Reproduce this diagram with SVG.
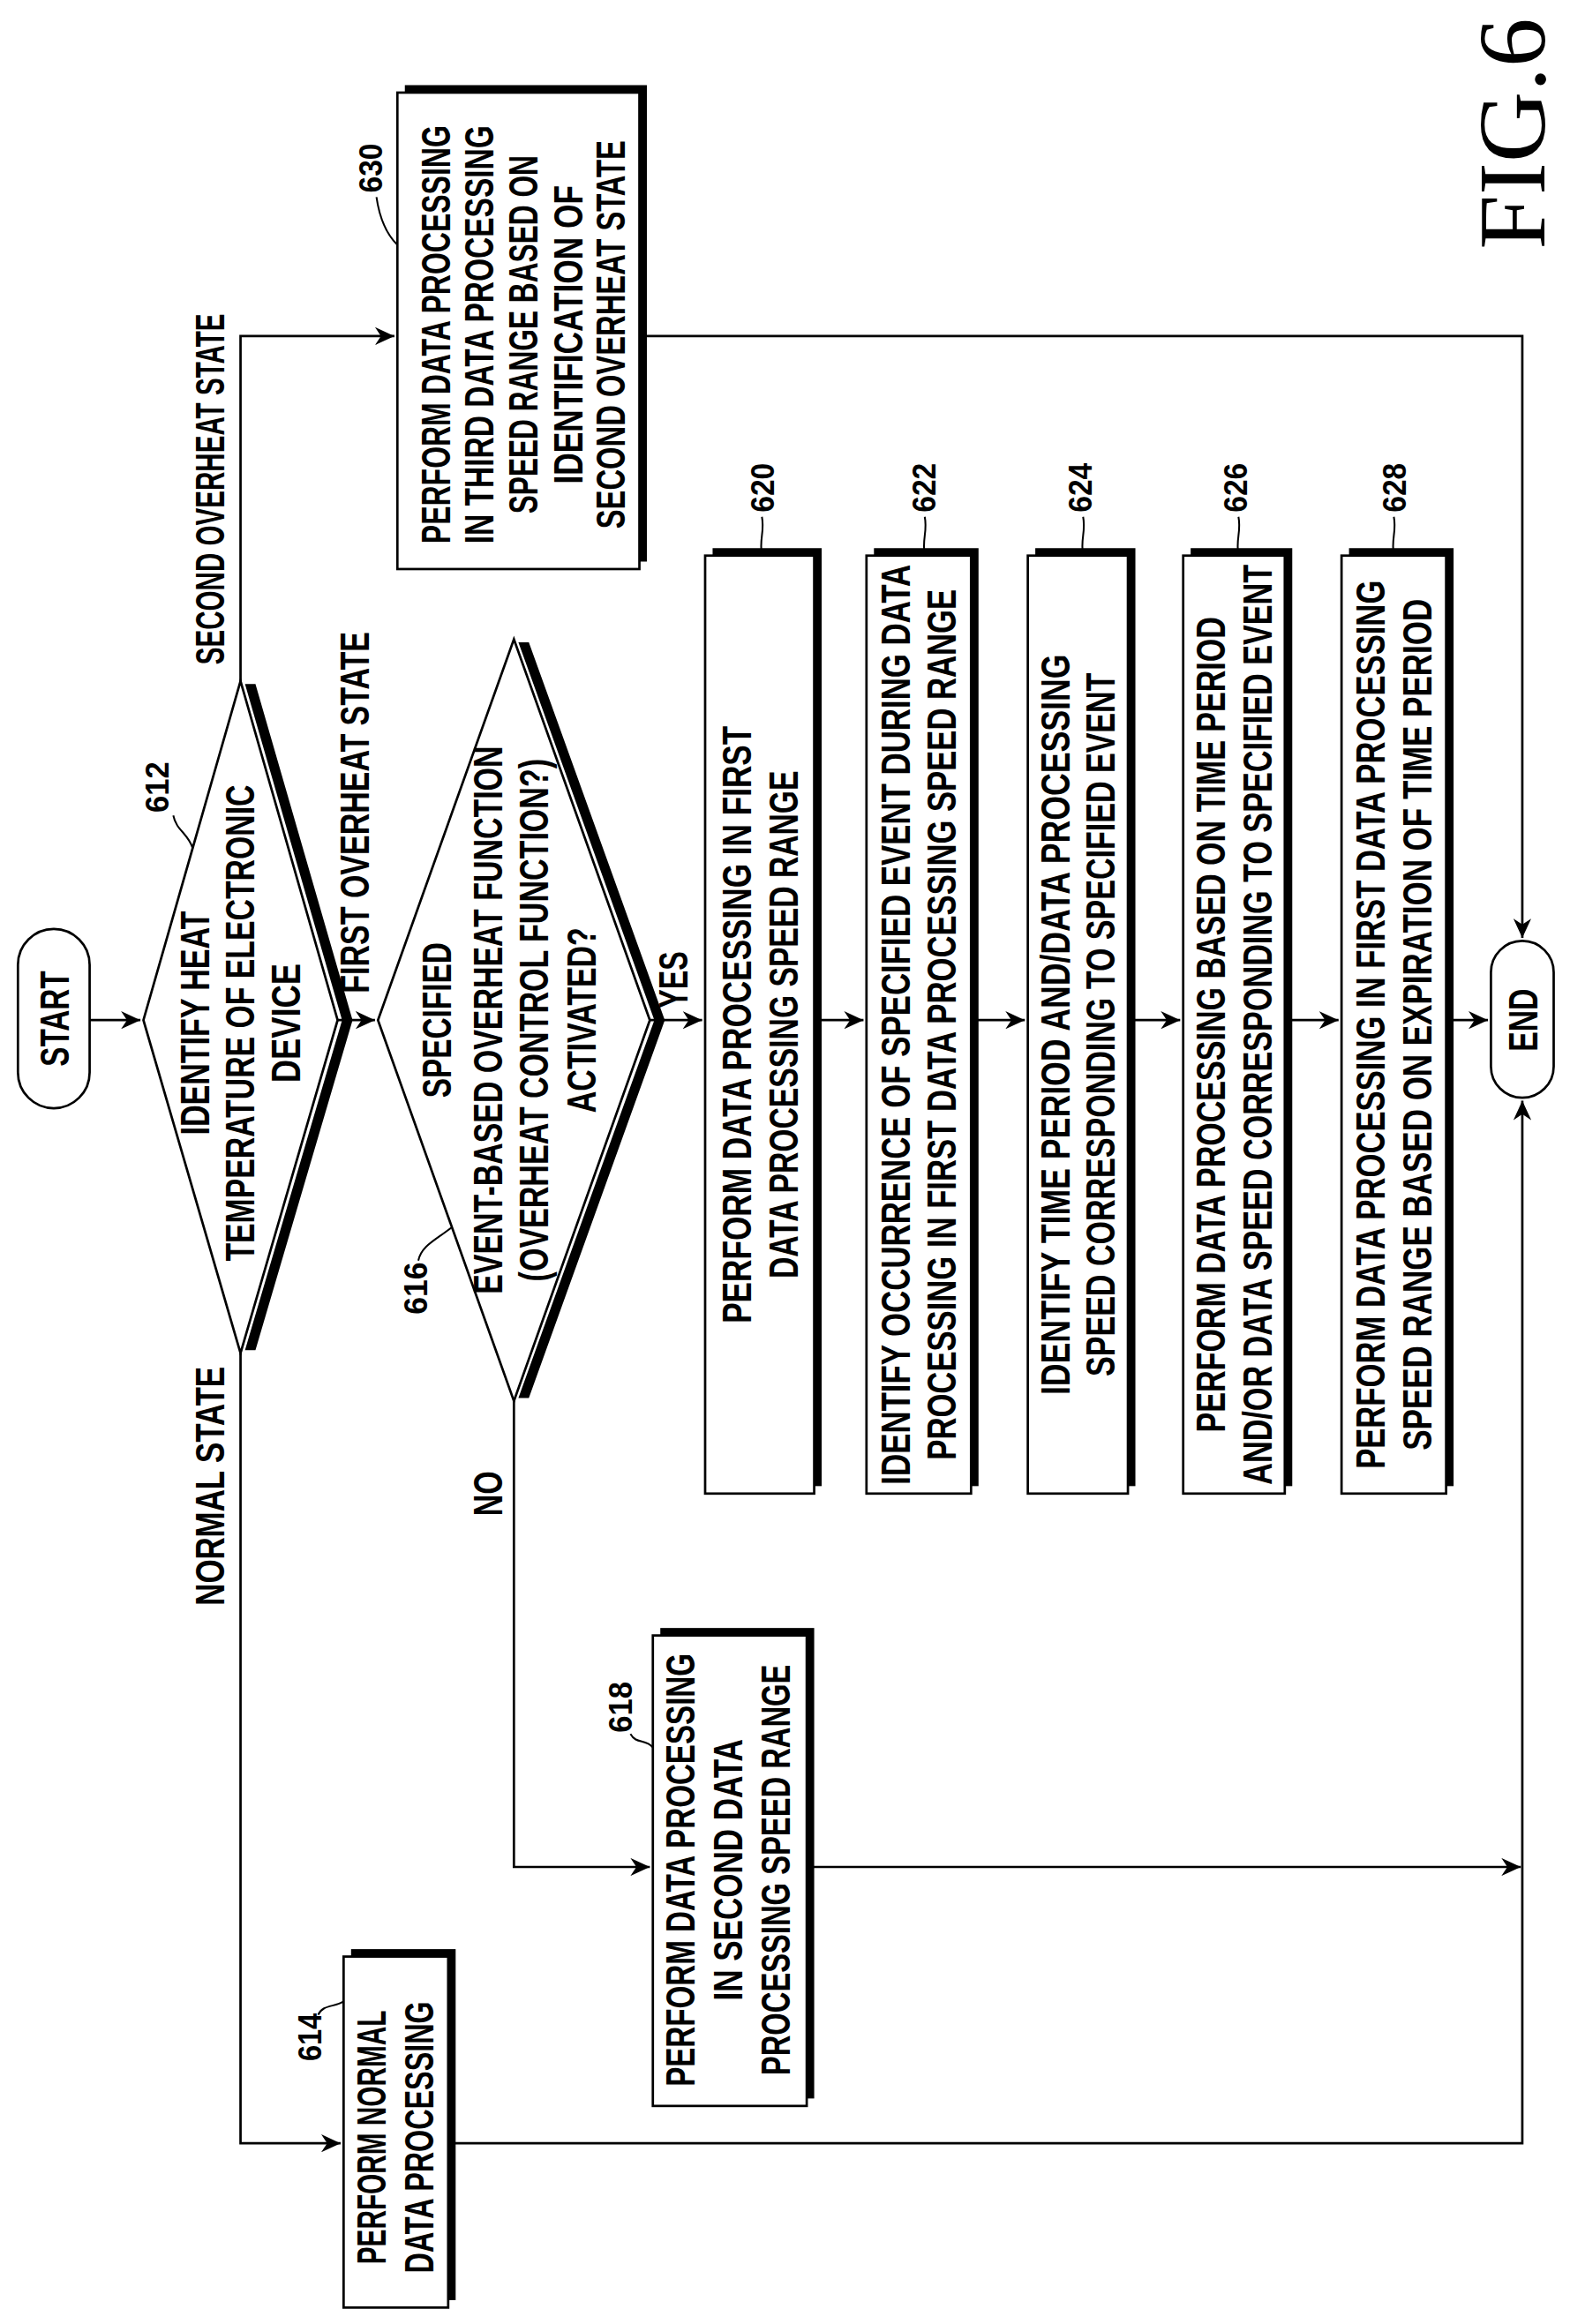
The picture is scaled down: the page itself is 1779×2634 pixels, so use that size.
<svg xmlns="http://www.w3.org/2000/svg" width="1779" height="2634" viewBox="0 0 1779 2634">
<style>
.t{font-family:"Liberation Sans",Arial,sans-serif;font-weight:bold;font-size:27px;fill:#000}
.c{text-anchor:middle}
.lb{font-family:"Liberation Sans",Arial,sans-serif;font-weight:bold;font-size:22px;fill:#000}
.ln{fill:none;stroke:#000;stroke-width:1.6}
.bx{fill:#fff;stroke:#000;stroke-width:1.6}
.sh{fill:#000}
.ld{fill:none;stroke:#000;stroke-width:1.2}
</style>
<defs>
<marker id="ah" markerUnits="userSpaceOnUse" markerWidth="14" markerHeight="12" refX="13" refY="6" orient="auto">
<path d="M0,0 L13,6 L0,12 L4,6 Z" fill="#000"/>
</marker>
</defs>
<rect width="1779" height="2634" fill="#fff"/>
<g transform="translate(0,2634) rotate(-90) scale(1.6928)">
<g id="connectors">
<path class="ln" d="M873,60 V94" marker-end="url(#ah)"/>
<path class="ln" d="M873,226 V251" marker-end="url(#ah)"/>
<path class="ln" d="M873,435 V470" marker-end="url(#ah)"/>
<path class="ln" d="M873,545 V578" marker-end="url(#ah)"/>
<path class="ln" d="M873,650 V686" marker-end="url(#ah)"/>
<path class="ln" d="M873,755 V790" marker-end="url(#ah)"/>
<path class="ln" d="M873,860 V896" marker-end="url(#ah)"/>
<path class="ln" d="M873,968 V996" marker-end="url(#ah)"/>
<path class="ln" d="M650,161 H121 V228" marker-end="url(#ah)"/>
<path class="ln" d="M1100,161 H1331 V264" marker-end="url(#ah)"/>
<path class="ln" d="M618,344 H306 V435" marker-end="url(#ah)"/>
<path class="ln" d="M1331,428 V1019 H928" marker-end="url(#ah)"/>
<path class="ln" d="M121,300 V1019 H819" marker-end="url(#ah)"/>
<path class="ln" d="M306,540 V1018" marker-end="url(#ah)"/>
</g>
<g id="start">
<rect class="bx" x="814" y="12" width="120" height="48" rx="24"/>
<text class="t c" x="874" y="46" textLength="64" lengthAdjust="spacingAndGlyphs">START</text>
</g>
<g id="n612">
<polyline class="sh" points="652,164 873,229 1098,164 1098,171 873,236 652,171" />
<polygon class="bx" points="650,161 873,96 1100,161 873,226"/>
<text class="t c" x="871" y="140" textLength="150" lengthAdjust="spacingAndGlyphs">IDENTIFY HEAT</text>
<text class="t c" x="871" y="170" textLength="319" lengthAdjust="spacingAndGlyphs">TEMPERATURE OF ELECTRONIC</text>
<text class="t c" x="871" y="201" textLength="80" lengthAdjust="spacingAndGlyphs">DEVICE</text>
<text class="lb" x="1012" y="113" textLength="34" lengthAdjust="spacingAndGlyphs">612</text>
<path class="ld" d="M1010,116 C1000,118 998,126 988,129"/>
</g>
<text class="t" x="891" y="247" textLength="242" lengthAdjust="spacingAndGlyphs">FIRST OVERHEAT STATE</text>
<text class="t" x="481" y="150" textLength="160" lengthAdjust="spacingAndGlyphs">NORMAL STATE</text>
<text class="t" x="1111" y="150" textLength="235" lengthAdjust="spacingAndGlyphs">SECOND OVERHEAT STATE</text>
<text class="t" x="881" y="460" textLength="38" lengthAdjust="spacingAndGlyphs">YES</text>
<text class="t" x="541" y="336" textLength="30" lengthAdjust="spacingAndGlyphs">NO</text>
<g id="n616">
<polyline class="sh" points="620,347 873,438 1126,347 1126,354 873,445 620,354"/>
<polygon class="bx" points="618,344 873,253 1128,344 873,435"/>
<text class="t c" x="873" y="302" textLength="104" lengthAdjust="spacingAndGlyphs">SPECIFIED</text>
<text class="t c" x="873" y="336" textLength="367" lengthAdjust="spacingAndGlyphs">EVENT-BASED OVERHEAT FUNCTION</text>
<text class="t c" x="873" y="367" textLength="350" lengthAdjust="spacingAndGlyphs">(OVERHEAT CONTROL FUNCTION?)</text>
<text class="t c" x="873" y="399" textLength="124" lengthAdjust="spacingAndGlyphs">ACTIVATED?</text>
<text class="lb" x="676" y="286" textLength="35" lengthAdjust="spacingAndGlyphs">616</text>
<path class="ld" d="M712,280 C722,282 726,292 734,302"/>
</g>
<g id="n614">
<rect class="sh" x="16" y="235" width="235" height="70"/>
<rect class="bx" x="11" y="230" width="235" height="70"/>
<text class="t c" x="125" y="258" textLength="170" lengthAdjust="spacingAndGlyphs">PERFORM NORMAL</text>
<text class="t c" x="125" y="290" textLength="182" lengthAdjust="spacingAndGlyphs">DATA PROCESSING</text>
<text class="lb" x="176" y="215" textLength="32" lengthAdjust="spacingAndGlyphs">614</text>
<path class="ld" d="M207,213 C214,216 212,224 216,230"/>
</g>
<g id="n618">
<rect class="sh" x="151" y="442" width="315" height="103"/>
<rect class="bx" x="146" y="437" width="315" height="103"/>
<text class="t c" x="304" y="465" textLength="290" lengthAdjust="spacingAndGlyphs">PERFORM DATA PROCESSING</text>
<text class="t c" x="304" y="497" textLength="175" lengthAdjust="spacingAndGlyphs">IN SECOND DATA</text>
<text class="t c" x="304" y="529" textLength="275" lengthAdjust="spacingAndGlyphs">PROCESSING SPEED RANGE</text>
<text class="lb" x="396" y="423" textLength="34" lengthAdjust="spacingAndGlyphs">618</text>
<path class="ld" d="M395,422 C388,426 392,432 386,437"/>
</g>
<g id="n620">
<rect class="sh" x="561" y="477" width="628" height="73"/>
<rect class="bx" x="556" y="472" width="628" height="73"/>
<text class="t c" x="870" y="503" textLength="400" lengthAdjust="spacingAndGlyphs">PERFORM DATA PROCESSING IN FIRST</text>
<text class="t c" x="870" y="534" textLength="340" lengthAdjust="spacingAndGlyphs">DATA PROCESSING SPEED RANGE</text>
<text class="lb" x="1213" y="518" textLength="33" lengthAdjust="spacingAndGlyphs">620</text>
<path class="ld" d="M1210,510 C1200,512 1195,508 1184,510"/>
</g>
<g id="n622">
<rect class="sh" x="561" y="585" width="628" height="70"/>
<rect class="bx" x="556" y="580" width="628" height="70"/>
<text class="t c" x="870" y="609" textLength="616" lengthAdjust="spacingAndGlyphs">IDENTIFY OCCURRENCE OF SPECIFIED EVENT DURING DATA</text>
<text class="t c" x="870" y="640" textLength="583" lengthAdjust="spacingAndGlyphs">PROCESSING IN FIRST DATA PROCESSING SPEED RANGE</text>
<text class="lb" x="1213" y="626" textLength="33" lengthAdjust="spacingAndGlyphs">622</text>
<path class="ld" d="M1210,619 C1200,621 1195,617 1184,619"/>
</g>
<g id="n624">
<rect class="sh" x="561" y="693" width="628" height="67"/>
<rect class="bx" x="556" y="688" width="628" height="67"/>
<text class="t c" x="870" y="716" textLength="496" lengthAdjust="spacingAndGlyphs">IDENTIFY TIME PERIOD AND/DATA PROCESSING</text>
<text class="t c" x="870" y="746" textLength="471" lengthAdjust="spacingAndGlyphs">SPEED CORRESPONDING TO SPECIFIED EVENT</text>
<text class="lb" x="1213" y="731" textLength="33" lengthAdjust="spacingAndGlyphs">624</text>
<path class="ld" d="M1210,725 C1200,727 1195,723 1184,725"/>
</g>
<g id="n626">
<rect class="sh" x="561" y="797" width="628" height="68"/>
<rect class="bx" x="556" y="792" width="628" height="68"/>
<text class="t c" x="870" y="820" textLength="546" lengthAdjust="spacingAndGlyphs">PERFORM DATA PROCESSING BASED ON TIME PERIOD</text>
<text class="t c" x="870" y="851" textLength="616" lengthAdjust="spacingAndGlyphs">AND/OR DATA SPEED CORRESPONDING TO SPECIFIED EVENT</text>
<text class="lb" x="1213" y="835" textLength="33" lengthAdjust="spacingAndGlyphs">626</text>
<path class="ld" d="M1210,829 C1200,831 1195,827 1184,829"/>
</g>
<g id="n628">
<rect class="sh" x="561" y="903" width="628" height="70"/>
<rect class="bx" x="556" y="898" width="628" height="70"/>
<text class="t c" x="870" y="927" textLength="595" lengthAdjust="spacingAndGlyphs">PERFORM DATA PROCESSING IN FIRST DATA PROCESSING</text>
<text class="t c" x="870" y="958" textLength="570" lengthAdjust="spacingAndGlyphs">SPEED RANGE BASED ON EXPIRATION OF TIME PERIOD</text>
<text class="lb" x="1213" y="941" textLength="33" lengthAdjust="spacingAndGlyphs">628</text>
<path class="ld" d="M1210,933 C1200,935 1195,931 1184,933"/>
</g>
<g id="n630">
<rect class="sh" x="1180" y="271" width="319" height="162"/>
<rect class="bx" x="1175" y="266" width="319" height="162"/>
<text class="t c" x="1332" y="301" textLength="280" lengthAdjust="spacingAndGlyphs">PERFORM DATA PROCESSING</text>
<text class="t c" x="1332" y="330" textLength="280" lengthAdjust="spacingAndGlyphs">IN THIRD DATA PROCESSING</text>
<text class="t c" x="1332" y="360" textLength="240" lengthAdjust="spacingAndGlyphs">SPEED RANGE BASED ON</text>
<text class="t c" x="1332" y="390" textLength="200" lengthAdjust="spacingAndGlyphs">IDENTIFICATION OF</text>
<text class="t c" x="1332" y="418" textLength="260" lengthAdjust="spacingAndGlyphs">SECOND OVERHEAT STATE</text>
<text class="lb" x="1427" y="256" textLength="33" lengthAdjust="spacingAndGlyphs">630</text>
<path class="ld" d="M1424,252 C1410,254 1400,258 1392,266"/>
</g>
<g id="end">
<rect class="bx" x="821" y="998" width="105" height="42" rx="21"/>
<text class="t c" x="873" y="1029" textLength="42" lengthAdjust="spacingAndGlyphs">END</text>
</g>
<text x="1389" y="1034" font-family="'Liberation Serif','Times New Roman',serif" font-size="64" textLength="155" lengthAdjust="spacingAndGlyphs">FIG.6</text>
</g>
</svg>
